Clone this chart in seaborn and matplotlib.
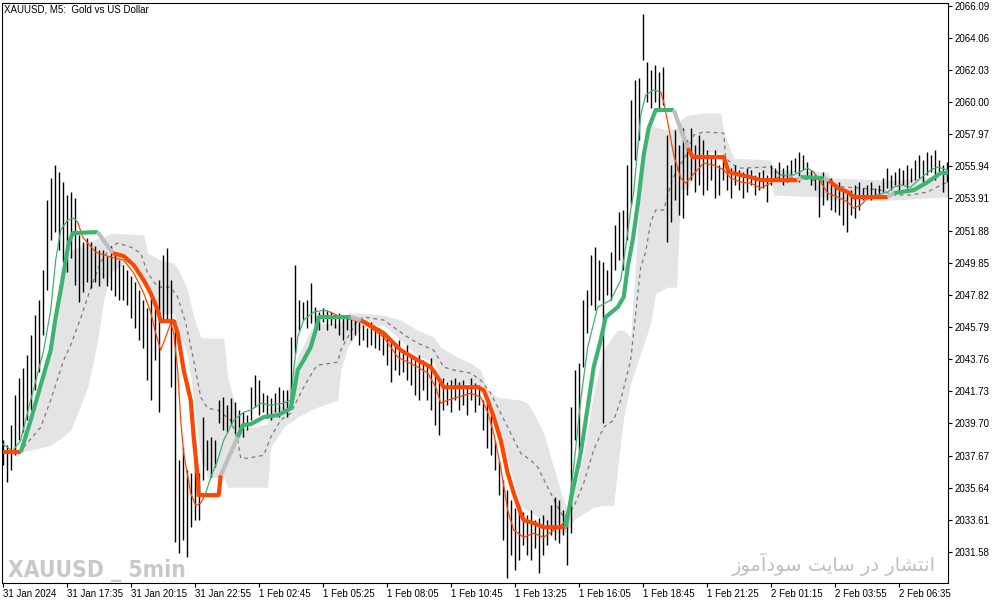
import numpy as np
import pandas as pd
import matplotlib
matplotlib.use("Agg")
import matplotlib.pyplot as plt
import matplotlib.font_manager as fm
import seaborn as sns

# ---------------- data (bar index = 5-minute bar number) ----------------
bar_index = list(range(0, 473, 2))
bar_high = [2038.64, 2038.33, 2039.59, 2041.49, 2042.56, 2043.19, 2044.01, 2045.28, 2046.54, 2047.49,
            2049.39, 2053.81, 2055.20, 2056.02, 2055.58, 2054.95, 2054.13, 2054.32, 2053.94, 2051.60,
            2051.16, 2051.41, 2051.16, 2050.90, 2050.65, 2050.65, 2050.27, 2050.90, 2050.52, 2050.02,
            2049.70, 2049.39, 2049.01, 2048.63, 2048.12, 2047.49, 2046.98, 2047.62, 2047.49, 2048.75,
            2050.33, 2050.78, 2048.75, 2046.23, 2037.38, 2038.20, 2036.75, 2036.56, 2038.64, 2036.56,
            2040.10, 2038.64, 2038.83, 2038.64, 2041.17, 2041.36, 2040.85, 2041.30, 2041.04, 2040.54,
            2040.41, 2040.22, 2041.99, 2042.75, 2042.43, 2041.61, 2041.49, 2041.30, 2041.61, 2041.99,
            2041.80, 2041.80, 2045.15, 2049.70, 2047.49, 2047.36, 2047.49, 2048.56, 2047.05, 2046.73,
            2046.98, 2046.86, 2046.73, 2046.54, 2046.67, 2046.48, 2046.35, 2046.35, 2046.23, 2046.10,
            2045.91, 2045.72, 2046.10, 2045.59, 2045.72, 2045.40, 2045.09, 2044.96, 2044.65, 2044.96,
            2044.33, 2044.65, 2044.01, 2043.70, 2044.01, 2043.70, 2043.38, 2043.82, 2043.07, 2042.43,
            2042.56, 2042.31, 2042.43, 2042.56, 2042.31, 2042.43, 2042.12, 2042.56, 2042.24, 2042.12,
            2041.17, 2041.04, 2040.22, 2038.64, 2037.38, 2036.11, 2035.48, 2034.85, 2034.34, 2034.53,
            2034.09, 2033.90, 2034.22, 2033.59, 2033.71, 2033.90, 2033.59, 2034.53, 2035.04, 2034.85,
            2034.22, 2034.03, 2040.73, 2043.07, 2043.51, 2047.49, 2048.12, 2050.33, 2050.84, 2050.02,
            2049.89, 2049.39, 2050.52, 2052.23, 2053.05, 2053.18, 2056.02, 2060.13, 2061.39, 2061.52,
            2065.57, 2062.53, 2062.03, 2062.34, 2061.90, 2062.22, 2057.92, 2056.02, 2058.23, 2057.29,
            2058.36, 2057.60, 2058.36, 2057.29, 2057.92, 2057.60, 2056.97, 2056.65, 2056.97, 2056.02,
            2056.34, 2056.02, 2055.83, 2056.02, 2055.71, 2055.58, 2055.83, 2055.71, 2055.39, 2055.58,
            2055.71, 2055.39, 2056.02, 2055.83, 2056.21, 2055.83, 2056.02, 2056.34, 2056.46, 2056.84,
            2056.65, 2056.21, 2055.71, 2055.39, 2055.20, 2055.58, 2055.07, 2055.20, 2054.76, 2054.95,
            2054.57, 2054.32, 2054.44, 2054.76, 2054.95, 2054.57, 2054.76, 2054.95, 2054.57, 2054.76,
            2055.20, 2055.83, 2055.39, 2055.58, 2055.83, 2055.71, 2056.02, 2055.83, 2056.34, 2056.65,
            2056.34, 2056.84, 2056.65, 2056.97, 2056.34, 2056.02, 2056.21]
bar_low = [2037.06, 2035.99, 2036.75, 2037.69, 2038.64, 2039.15, 2039.91, 2040.54, 2041.80, 2042.94,
           2045.28, 2048.12, 2051.28, 2051.79, 2050.65, 2049.89, 2049.26, 2050.14, 2048.44, 2047.36,
           2048.00, 2048.63, 2048.25, 2048.63, 2048.37, 2048.88, 2048.37, 2048.12, 2047.74, 2047.49,
           2047.49, 2047.17, 2046.35, 2045.72, 2044.96, 2044.46, 2042.43, 2041.17, 2043.70, 2040.41,
           2046.23, 2046.23, 2041.99, 2032.20, 2031.50, 2032.32, 2031.25, 2033.14, 2033.59, 2033.59,
           2036.11, 2036.75, 2036.30, 2036.94, 2039.72, 2039.27, 2039.15, 2039.59, 2039.08, 2039.40,
           2038.83, 2039.27, 2039.91, 2040.73, 2040.22, 2040.41, 2040.03, 2039.91, 2040.41, 2040.10,
           2040.54, 2040.10, 2041.17, 2044.14, 2045.59, 2046.23, 2045.72, 2046.04, 2045.91, 2045.59,
           2046.10, 2045.59, 2045.91, 2045.72, 2045.28, 2044.96, 2045.59, 2044.96, 2045.28, 2044.65,
           2044.96, 2044.52, 2044.65, 2044.46, 2044.33, 2044.01, 2043.38, 2042.31, 2043.07, 2042.75,
           2042.94, 2042.43, 2042.12, 2041.49, 2041.17, 2041.80, 2041.17, 2040.54, 2039.59, 2038.96,
           2040.54, 2040.85, 2040.41, 2041.17, 2040.54, 2040.85, 2040.22, 2041.17, 2040.41, 2040.85,
           2039.27, 2038.14, 2037.69, 2036.75, 2035.17, 2032.32, 2029.92, 2031.37, 2030.43, 2031.06,
           2032.01, 2031.37, 2031.06, 2031.82, 2030.24, 2031.37, 2032.01, 2032.64, 2032.32, 2032.13,
           2032.64, 2030.74, 2032.76, 2038.64, 2036.94, 2043.26, 2045.40, 2047.17, 2046.86, 2047.49,
           2039.72, 2047.81, 2047.49, 2049.39, 2050.02, 2049.39, 2051.28, 2053.49, 2056.34, 2057.60,
           2062.66, 2060.00, 2059.62, 2060.00, 2059.62, 2059.81, 2051.16, 2052.42, 2053.81, 2052.86,
           2052.67, 2054.13, 2055.07, 2054.32, 2054.76, 2054.13, 2054.44, 2055.07, 2053.94, 2054.13,
           2055.07, 2054.44, 2053.94, 2054.76, 2054.44, 2053.94, 2054.32, 2054.76, 2054.13, 2054.44,
           2054.57, 2053.68, 2054.76, 2055.07, 2055.20, 2054.76, 2054.95, 2055.39, 2055.58, 2054.95,
           2055.71, 2055.20, 2054.76, 2054.44, 2052.74, 2053.49, 2053.81, 2053.18, 2053.05, 2052.86,
           2052.23, 2051.79, 2052.86, 2052.67, 2053.18, 2053.81, 2053.94, 2053.81, 2054.13, 2053.94,
           2054.32, 2054.57, 2054.44, 2054.76, 2054.32, 2054.76, 2054.57, 2054.95, 2055.07, 2055.20,
           2054.95, 2055.39, 2055.58, 2055.07, 2055.39, 2054.32, 2054.95]

# thick trend line: knots, value, state of the segment that starts at each knot
thick_t = [0, 9, 14, 19, 24, 26.5, 29, 31.5, 33, 35, 47.5, 55, 60.5, 65.5, 70.5, 74, 77.5, 79, 85.5, 87.5,
           90.5, 94, 95.5, 97.5, 98, 108, 109, 117.5, 120, 124, 130.5, 137.5, 140.5, 144, 145.5, 147.5,
           150.5, 154, 156.5, 158, 174, 179, 190.5, 194, 199, 207.5, 214, 217.5, 220.5, 237.5, 240.5,
           242.5, 245.5, 249, 252.5, 255.5, 259, 260.5, 265.5, 270.5, 281.5, 284, 289, 292.5, 295.5, 299,
           301.5, 307.5, 310.5, 312.5, 315, 317.5, 320.5, 323, 326.5, 335.5, 342.5, 345, 360.5, 363, 369,
           374, 379, 397.5, 399, 410.5, 413, 417.5, 422.5, 425.5, 442.5, 445.5, 455.5, 462.5, 469, 473]
thick_p = [2037.88, 2037.88, 2039.91, 2042.12, 2044.33, 2046.42, 2048.12, 2050.02, 2051.09, 2051.72,
           2051.79, 2050.46, 2050.27, 2049.70, 2048.75, 2047.93, 2046.86, 2046.16, 2046.16, 2045.40,
           2043.07, 2041.17, 2038.83, 2036.30, 2035.17, 2035.17, 2036.43, 2038.83, 2039.59, 2039.65,
           2040.10, 2040.22, 2040.41, 2040.66, 2041.61, 2043.07, 2043.70, 2044.52, 2045.59, 2046.42,
           2046.42, 2046.23, 2045.40, 2044.96, 2044.33, 2043.70, 2043.26, 2042.62, 2041.99, 2041.99,
           2041.80, 2041.17, 2040.10, 2038.64, 2036.56, 2035.29, 2034.03, 2033.59, 2033.40, 2033.14,
           2033.14, 2034.85, 2037.82, 2040.73, 2043.26, 2044.96, 2046.42, 2047.05, 2047.68, 2049.58,
           2051.28, 2053.49, 2056.65, 2058.36, 2059.50, 2059.50, 2057.10, 2056.53, 2056.53, 2055.58,
           2055.39, 2055.26, 2055.07, 2055.07, 2055.26, 2055.20, 2055.07, 2054.57, 2054.32, 2054.00,
           2054.00, 2054.25, 2054.44, 2054.95, 2055.52, 2055.52]
thick_state = ("d" + "u" * 9 + "n" + "d" * 15 + "n" + "u" * 13 + "n" + "d" * 19 + "u" * 15
               + "n" + "d" * 7 + "n" + "u" + "n" + "d" * 4 + "n" + "u" * 4)

# thin moving average
thin_t = [0, 5, 9, 14, 20.5, 24, 26.5, 29, 32.5, 35.5, 37.5,
          40, 42.5, 46.5, 54, 60.5, 65.5, 70.5, 74, 76.5, 79, 81.5, 84, 85.5, 87.5, 89, 90.5, 94, 96.5, 99, 101.5,
          104, 107.5, 110.5, 115.5, 120.5, 124, 129, 134, 140.5, 144, 145.5, 147.5, 150.5, 155.5, 160.5, 164,
          169, 175.5, 180.5, 190.5, 194, 197.5, 202.5, 207.5, 212.5, 216.5, 219, 222.5, 227.5, 234, 239, 242.5,
          245.5, 249, 252.5, 255.5, 260.5, 265.5, 270.5, 275.5, 280.5,
          283, 285.5, 289, 292.5, 297.5, 304, 309, 311.5, 314, 315.5, 319, 321.5, 325.5, 329,
          330.5, 332.5, 335.5, 339, 341.5, 345, 350.5, 355.5, 360.5, 364, 369, 374, 379, 384,
          389, 395.5, 402.5, 405.5,
          409, 412.5, 417.5, 422.5, 425.5, 429, 432.5,
          437.5, 442.5, 445.5, 449, 454, 459, 464, 467.5, 472.5]
thin_p = [2038.40, 2037.95, 2038.64, 2041.17, 2044.33, 2046.86, 2050.02, 2051.92, 2052.55, 2052.67, 2052.42,
          2051.47, 2051.09, 2050.52, 2050.21, 2050.02, 2049.20, 2047.93, 2046.73, 2045.40, 2044.33, 2045.15,
          2046.04, 2045.40, 2043.07, 2039.91, 2037.82, 2035.29, 2034.53, 2034.66, 2035.29,
          2036.30, 2037.38, 2038.64, 2039.91, 2040.41, 2040.54, 2040.98, 2040.85, 2040.98, 2041.17, 2043.07,
          2045.15, 2046.23, 2046.73, 2046.86, 2046.73,
          2046.42, 2046.23, 2046.04, 2045.15, 2044.52, 2043.89, 2043.57, 2043.26, 2042.88, 2041.99, 2040.98,
          2041.17, 2041.36, 2041.61, 2041.36, 2040.41, 2039.08, 2036.94, 2034.22, 2032.96, 2032.51, 2032.76,
          2032.51, 2032.96, 2033.40,
          2034.41, 2036.94, 2041.17, 2044.52, 2047.05, 2047.49, 2048.75, 2050.84, 2053.18, 2054.32, 2059.18,
          2060.45, 2060.76, 2060.64,
          2060.00, 2058.74, 2056.65, 2055.20, 2054.88, 2055.39, 2056.15, 2056.02, 2055.71, 2055.20, 2054.95,
          2054.88, 2054.57, 2054.88,
          2055.39, 2055.39, 2055.83, 2055.58,
          2054.95, 2054.25, 2054.00, 2053.68, 2053.30, 2053.49, 2053.94,
          2054.13, 2054.32, 2054.63, 2054.76, 2054.63, 2055.20, 2055.71, 2055.90, 2055.71]
thin_state = "u" * 10 + "d" * 20 + "u" * 16 + "d" * 25 + "u" * 14 + "d" * 14 + "u" * 4 + "d" * 7 + "u" * 9

# dashed middle line of the channel
dash_t = [10.5, 19, 24, 30.5, 34, 39, 44, 49, 54, 57.5, 64, 69, 72.5, 77.5, 84, 87.5, 91.5, 95.5, 99, 102.5,
          107.5, 114, 117.5, 119, 122.5, 130.5, 134, 139, 144, 150.5, 155.5, 157.5, 167.5, 169, 172.5, 177.5,
          180.5, 190.5, 195.5, 202.5, 207.5, 215.5, 220.5, 225.5, 234, 239, 244, 249, 254, 259, 264, 267.5,
          272.5, 277.5, 280.5, 285.5, 290.5, 295.5, 300.5, 305.5, 309, 314, 319, 321.5, 324, 326.5, 330.5,
          335, 342.5, 345.5, 350.5, 360.5, 361.5, 365.5, 369, 384, 389, 394, 412.5, 420.5, 429, 439, 445.5,
          454, 462.5, 469, 473]
dash_p = [2038.20, 2039.46, 2041.17, 2043.70, 2044.65, 2046.35, 2048.25, 2049.89, 2050.84, 2051.09,
          2050.84, 2050.46, 2049.20,
          2048.31, 2048.31, 2047.68, 2046.04, 2043.70, 2041.36, 2040.66, 2040.54, 2039.91, 2038.64,
          2037.50, 2037.50, 2037.69, 2038.83, 2039.91, 2040.35, 2041.99, 2043.07, 2043.38, 2043.57,
          2044.33, 2045.15, 2046.23, 2046.42, 2046.23, 2045.78, 2045.15, 2044.77, 2044.33, 2043.26,
          2043.07, 2042.88, 2042.43, 2041.61, 2040.35, 2039.08, 2037.82, 2037.38, 2036.94, 2035.67,
          2034.41, 2033.78, 2034.41, 2035.93, 2038.02, 2039.46, 2039.91, 2041.17, 2043.70, 2049.58,
          2050.52, 2052.42, 2053.18, 2053.18, 2055.20, 2056.84, 2057.92, 2058.11, 2058.04, 2056.46,
          2056.02, 2055.83, 2055.90, 2055.39, 2055.26, 2054.95, 2054.63, 2054.57, 2054.44, 2054.13,
          2054.13, 2054.32, 2054.76, 2054.95]

# shaded channel
band_t = [9, 14, 20.5, 24, 29, 34, 38, 42.5, 45.5, 48, 50.5, 54, 64, 70.5, 72.5, 79, 85.5, 88, 92.5, 95.5,
          99, 102.5, 110.5, 112.5, 115.5, 119, 132.5, 134, 140.5, 147.5, 154, 157.5, 167.5, 169, 172.5, 179,
          190.5, 199, 207.5, 215.5, 219, 227.5, 234, 239, 242.5, 247.5, 259, 262.5, 265.5, 270.5, 275.5,
          280.5, 282.5, 285.5, 290.5, 295.5, 300.5, 305.5, 307.5, 310.5, 314, 319, 324, 326.5, 332.5, 337,
          339, 342.5, 350.5, 359, 360.5, 365.5, 384, 385.5, 412.5, 414, 445.5, 469, 473]
band_hi = [2037.88, 2039.91, 2042.75, 2044.65, 2048.12, 2050.65, 2050.84, 2051.16, 2051.28, 2051.41,
           2051.47, 2051.72, 2051.66,
           2051.60, 2050.46, 2050.02, 2049.83, 2049.39, 2048.12, 2046.42, 2045.15, 2045.09, 2045.09,
           2042.62, 2041.17, 2039.34, 2039.65, 2040.54, 2040.85, 2043.89, 2045.59, 2046.04, 2045.97,
           2046.10, 2046.67, 2046.67, 2046.54, 2046.23, 2045.59, 2045.15, 2044.52, 2043.89, 2043.51,
           2043.07, 2041.80, 2041.36, 2041.17, 2040.98, 2040.35, 2039.08, 2036.94, 2034.85, 2034.22,
           2035.23, 2037.82, 2041.61, 2044.39, 2045.28, 2045.59, 2045.59, 2045.15, 2055.01, 2058.80,
           2058.42, 2058.23, 2058.36, 2058.87, 2059.18, 2059.31, 2059.31, 2058.11, 2056.46, 2056.34,
           2055.71, 2055.58, 2055.20, 2055.07, 2055.33, 2055.58]
band_lo = [2037.88, 2038.02, 2038.20, 2038.33, 2038.77, 2039.27, 2040.54, 2041.99, 2043.70, 2045.40,
           2047.49, 2049.26, 2050.02,
           2048.44, 2047.93, 2046.61, 2046.67, 2045.59, 2043.95, 2041.17, 2037.57, 2036.24, 2036.30,
           2035.67, 2035.67, 2035.67, 2035.67, 2038.20, 2039.46, 2040.10, 2040.54, 2040.73, 2041.17,
           2043.07, 2044.52, 2045.78, 2045.91, 2044.96, 2043.95, 2043.57, 2042.50, 2042.12, 2042.24,
           2041.80, 2041.17, 2039.59, 2034.47, 2034.22, 2033.97, 2033.59, 2032.83, 2032.70, 2032.96,
           2033.59, 2034.03, 2034.41, 2034.53, 2034.53, 2036.94, 2040.10, 2042.24, 2044.14, 2046.04,
           2047.93, 2048.31, 2048.31, 2054.44, 2054.51, 2056.91, 2056.78, 2056.34, 2055.58, 2055.45,
           2054.13, 2054.00, 2053.81, 2053.81, 2054.00, 2054.06]

x_tick_index = [0, 32, 64, 96, 128, 160, 192, 224, 256, 288, 320, 352, 384, 416, 448]
x_tick_labels = ["31 Jan 2024", "31 Jan 17:35", "31 Jan 20:15", "31 Jan 22:55", "1 Feb 02:45",
                 "1 Feb 05:25", "1 Feb 08:05", "1 Feb 10:45", "1 Feb 13:25", "1 Feb 16:05",
                 "1 Feb 18:45", "1 Feb 21:25", "2 Feb 01:15", "2 Feb 03:55", "2 Feb 06:35"]
y_tick_labels = ["2066.09", "2064.06", "2062.03", "2060.00", "2057.97", "2055.94", "2053.91", "2051.88",
                 "2049.85", "2047.82", "2045.79", "2043.76", "2041.73", "2039.70", "2037.67", "2035.64",
                 "2033.61", "2031.58"]
title_text = "XAUUSD, M5:  Gold vs US Dollar"
watermark_left = "XAUUSD _ 5min"
# Persian "انتشار در سایت سودآموز" written in presentation forms, in visual order
watermark_right = "\uFEAF\uFEEE\uFEE3\uFE81\uFEA9\uFEEE\uFEB3 \uFE96\uFEF3\uFE8E\uFEB3 \uFEAD\uFEA9 \uFEAD\uFE8E\uFEB8\uFE98\uFEE7\uFE8D"

# ---------------- drawing ----------------
sns.set_theme(style="white")
plt.rcParams["font.family"] = ["Liberation Sans", "DejaVu Sans"]

GREEN, ORANGE, GREY = "#3CB371", "#FF4500", "#BEBEBE"
palette = {"u": GREEN, "d": ORANGE, "n": GREY}


def runs_frame(ts, ps, states):
    rows = []
    run = 0
    for i in range(len(ts) - 1):
        if i > 0 and states[i] != states[i - 1]:
            run += 1
        rows.append((run, states[i], ts[i], ps[i]))
        rows.append((run, states[i], ts[i + 1], ps[i + 1]))
    return pd.DataFrame(rows, columns=["run", "state", "t", "p"])


W, H = 1003, 605
fig = plt.figure(figsize=(W / 100, H / 100), dpi=100)
fig.patch.set_facecolor("white")
L, R, T, B = 2.5, 948, 3, 583
ax = fig.add_axes([L / W, (H - B) / H, (R - L) / W, (B - T) / H])
ax.set_facecolor("white")

ax.fill_between(band_t, band_lo, band_hi, color="#E4E4E4", lw=0, zorder=1)
sns.lineplot(x=dash_t, y=dash_p, ax=ax, color="#7A7A7A", lw=0.9, linestyle=(0, (3, 3)), zorder=2)
ax.vlines(bar_index, bar_low, bar_high, colors="black", lw=1.0, zorder=3)

thin_df = runs_frame(thin_t, thin_p, thin_state)
sns.lineplot(data=thin_df, x="t", y="p", hue="state", units="run", estimator=None, sort=False,
             palette=palette, lw=0.9, legend=False, ax=ax, zorder=4)
thick_df = runs_frame(thick_t, thick_p, thick_state)
sns.lineplot(data=thick_df, x="t", y="p", hue="state", units="run", estimator=None, sort=False,
             palette=palette, lw=3.0, legend=False, ax=ax, zorder=5, solid_capstyle="butt")

ax.set_xlim(-0.1, 472.65)
ax.set_ylim(2029.62, 2066.26)
ax.set_xlabel("")
ax.set_ylabel("")

ax.yaxis.tick_right()
ax.set_yticks([float(v) for v in y_tick_labels])
ax.set_yticklabels(y_tick_labels)
ax.set_xticks(x_tick_index)
ax.set_xticklabels(x_tick_labels, ha="left")
ax.tick_params(axis="y", right=True, left=False, length=3, width=0.8, pad=2, labelsize=7,
               colors="black", direction="out")
ax.tick_params(axis="x", bottom=True, top=False, length=3, width=0.8, pad=1.5, labelsize=7,
               colors="black", direction="out")
for s in ax.spines.values():
    s.set_color("black")
    s.set_linewidth(0.8)
ax.grid(False)

ax.text(0.002, 0.997, title_text, transform=ax.transAxes, ha="left", va="top", fontsize=7,
        color="black", zorder=10)


def has_font(name):
    try:
        fm.findfont(fm.FontProperties(family=name), fallback_to_default=False)
        return True
    except Exception:
        return False


if has_font("Liberation Sans Narrow"):
    fig.text(8 / W, (H - 577) / H, watermark_left, family=["Liberation Sans Narrow", "DejaVu Sans"],
             fontsize=20, fontweight="bold", color="#C8C8C8", ha="left", va="baseline", zorder=10)
else:
    fig.text(8 / W, (H - 577) / H, watermark_left, family=["DejaVu Sans"], fontstretch="condensed",
             fontsize=16.4, fontweight="bold", color="#C8C8C8", ha="left", va="baseline", zorder=10)

fig.text(936 / W, (H - 571) / H, watermark_right, family=["DejaVu Sans"], fontsize=14,
         color="#C0C0C0", ha="right", va="baseline", zorder=10)

fig.savefig("out.png", dpi=100, facecolor="white")
